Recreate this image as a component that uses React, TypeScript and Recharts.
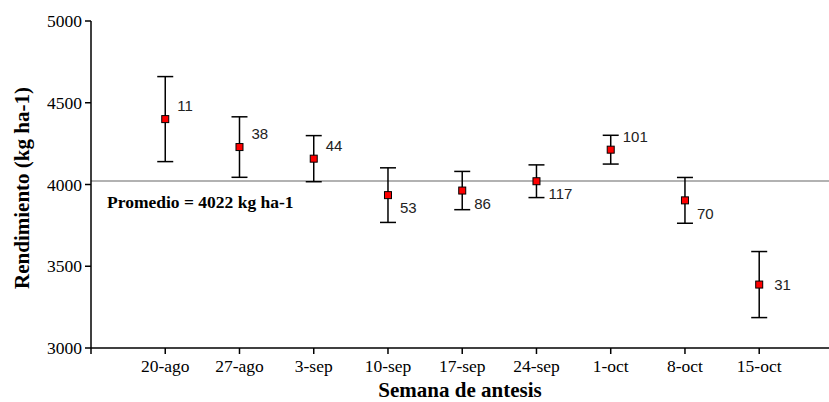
import React from "react";
import {
  ScatterChart,
  Scatter,
  XAxis,
  YAxis,
  ErrorBar,
  ReferenceLine,
  Label,
} from "recharts";

const weeks = ["20-ago", "27-ago", "3-sep", "10-sep", "17-sep", "24-sep", "1-oct", "8-oct", "15-oct"];
const yieldMean = [4400, 4229, 4158, 3935, 3963, 4020, 4213, 3903, 3388];
const yieldErr = [260, 185, 141, 167, 117, 100, 88, 140, 202];
const nObs = [11, 38, 44, 53, 86, 117, 101, 70, 31];
const labelSide = ["up", "up", "up", "down", "down", "down", "up", "down", "right"];
const yTicks = [3000, 3500, 4000, 4500, 5000];
const average = 4022;

const data = weeks.map((w, i) => ({
  x: i + 1,
  y: yieldMean[i],
  err: yieldErr[i],
  n: nObs[i],
  side: labelSide[i],
}));

const serif = "Liberation Serif, Times New Roman, serif";
const sans = "Liberation Sans, Arial, sans-serif";

const Marker = (props: any) => {
  const { cx, cy, payload } = props;
  const s = 7;
  let dx = 12;
  let dy = 0;
  if (payload.side === "up") dy = -13;
  else if (payload.side === "down") dy = 13;
  else dx = 15;
  return (
    <g>
      <rect x={cx - s / 2} y={cy - s / 2} width={s} height={s} fill="#ff0000" stroke="#000" strokeWidth={1} />
      <text
        x={cx + dx}
        y={cy + dy}
        dy="0.35em"
        fontFamily={sans}
        fontSize={15}
        fill="#222"
      >
        {payload.n}
      </text>
    </g>
  );
};

export default function App() {
  return (
    <div style={{ position: "absolute", left: 0, top: 0, background: "#fff" }}>
      <ScatterChart width={829} height={402} margin={{ top: 21, right: 0, bottom: 24, left: 0 }}>
        <XAxis
          type="number"
          dataKey="x"
          domain={[0, 9.94]}
          ticks={[0, 1, 2, 3, 4, 5, 6, 7, 8, 9]}
          tickFormatter={(v: number) => (v >= 1 ? weeks[v - 1] : "")}
          height={30}
          axisLine={{ stroke: "#000", strokeWidth: 1.5 }}
          tickLine={{ stroke: "#000", strokeWidth: 1.5 }}
          tickSize={6}
          tickMargin={6}
          tick={{ fill: "#000", fontFamily: serif, fontSize: 17.5 }}
          interval={0}
          allowDataOverflow
        >
          <Label
            content={(p: any) => {
              const vb = p.viewBox;
              return (
                <text
                  x={vb.x + vb.width / 2}
                  y={397}
                  textAnchor="middle"
                  fontFamily={serif}
                  fontWeight="bold"
                  fontSize={21}
                  fill="#000"
                >
                  Semana de antesis
                </text>
              );
            }}
          />
        </XAxis>
        <YAxis
          type="number"
          dataKey="y"
          domain={[3000, 5000]}
          ticks={yTicks}
          width={91}
          axisLine={{ stroke: "#000", strokeWidth: 1.5 }}
          tickLine={{ stroke: "#000", strokeWidth: 1.5 }}
          tickSize={6}
          tickMargin={3}
          tick={{ fill: "#000", fontFamily: serif, fontSize: 17.5 }}
          allowDataOverflow
        >
          <Label
            content={(p: any) => {
              const cy = 188;
              return (
                <text
                  x={22}
                  y={cy}
                  transform={`rotate(-90, 22, ${cy})`}
                  textAnchor="middle"
                  dominantBaseline="central"
                  fontFamily={serif}
                  fontWeight="bold"
                  fontSize={21}
                  fill="#000"
                >
                  Rendimiento (kg ha-1)
                </text>
              );
            }}
          />
        </YAxis>
        <ReferenceLine
          y={average}
          stroke="#999"
          strokeWidth={1.5}
          label={(p: any) => {
            const vb = p.viewBox;
            return (
              <text
                x={vb.x + 16}
                y={vb.y + 27}
                fontFamily={serif}
                fontWeight="bold"
                fontSize={17.5}
                fill="#000"
              >
                {`Promedio = ${average} kg ha-1`}
              </text>
            );
          }}
        />
        <Scatter data={data} shape={Marker} isAnimationActive={false}>
          <ErrorBar dataKey="err" direction="y" width={8} stroke="#000" strokeWidth={1.5} />
        </Scatter>
      </ScatterChart>
    </div>
  );
}
